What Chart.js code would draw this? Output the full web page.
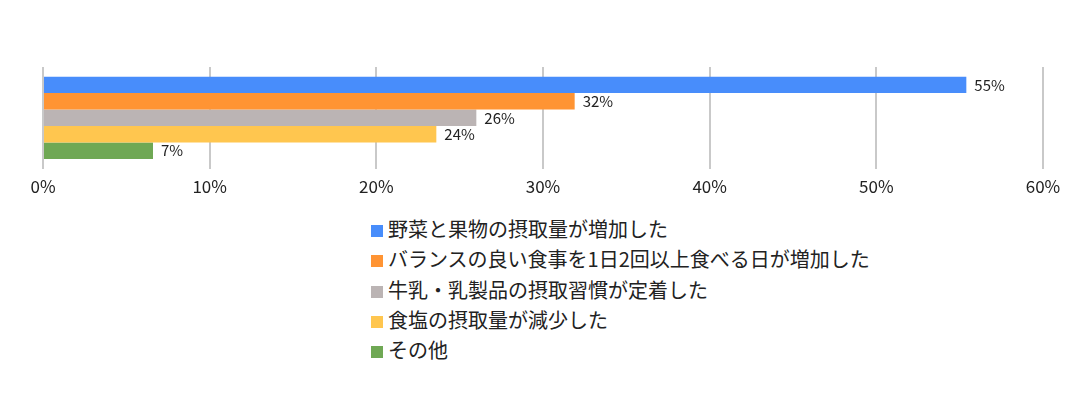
<!DOCTYPE html>
<html>
<head>
<meta charset="utf-8">
<script src="https://cdn.jsdelivr.net/npm/chart.js@4.4.0/dist/chart.umd.min.js"></script>
<style>
  body { margin: 0; background: #fff; font-family: "Noto Sans CJK JP", sans-serif; }
  #wrap { position: relative; width: 1080px; height: 393px; }
  #box { position: absolute; left: 0; top: 0; width: 1080px; height: 205px; }
  #legend { position: absolute; left: 371px; top: 214px; margin: 0; padding: 0; list-style: none; }
  #legend li { height: 30.3px; line-height: 30px; font-size: 20px; color: #222; white-space: nowrap; }
  #legend span { display: inline-block; width: 12px; height: 12px; margin-right: 5px; vertical-align: 0px; }
</style>
</head>
<body>
<div id="wrap">
  <div id="box"><canvas id="chart"></canvas></div>
  <ul id="legend"></ul>
</div>
<script>
// answers, one bar each
const seriesNames = [
  '野菜と果物の摂取量が増加した',
  'バランスの良い食事を1日2回以上食べる日が増加した',
  '牛乳・乳製品の摂取習慣が定着した',
  '食塩の摂取量が減少した',
  'その他'
];
const seriesValues = [55.4, 31.9, 26.0, 23.6, 6.6];
const seriesColors = ['#488dfb', '#ff9433', '#bbb4b4', '#ffc64f', '#6fa854'];
const tickValues = [0, 10, 20, 30, 40, 50, 60];

const datasets = seriesNames.map(function (name, i) {
    return {
        label: name,
        data: [seriesValues[i]],
        backgroundColor: seriesColors[i],
        borderWidth: 0,
        categoryPercentage: 0.81,
        barPercentage: 1.0,
    };
});

// value text right of each bar end
const valueLabels = {
    id: 'valueLabels',
    afterDatasetsDraw(chart) {
        const ctx = chart.ctx;
        ctx.save();
        ctx.font = '15px "Noto Sans CJK JP", sans-serif';
        ctx.fillStyle = '#222';
        ctx.textAlign = 'left';
        ctx.textBaseline = 'middle';
        chart.data.datasets.forEach(function (ds, i) {
            const bar = chart.getDatasetMeta(i).data[0];
            ctx.fillText(Math.round(ds.data[0]) + '%', bar.x + 8, bar.y);
        });
        ctx.restore();
    }
};

new Chart(document.getElementById('chart'), {
    type: 'bar',
    data: { labels: [''], datasets: datasets },
    options: {
        indexAxis: 'y',
        responsive: true,
        maintainAspectRatio: false,
        animation: false,
        layout: { padding: { top: 67, left: 43, right: 37, bottom: 0 } },
        plugins: { legend: { display: false }, tooltip: { enabled: false } },
        scales: {
            x: {
                min: 0,
                max: 60,
                afterBuildTicks: function (axis) {
                    axis.ticks = tickValues.map(function (v) { return { value: v }; });
                },
                grid: { color: '#c9c9c9', lineWidth: 2, drawTicks: false },
                border: { display: false },
                ticks: {
                    padding: 8,
                    color: '#222',
                    font: { size: 17, family: '"Noto Sans CJK JP", sans-serif' },
                    callback: function (v) { return v + '%'; }
                }
            },
            y: { display: false }
        }
    },
    plugins: [valueLabels]
});

const legend = document.getElementById('legend');
seriesNames.forEach(function (name, i) {
    const li = document.createElement('li');
    li.innerHTML = '<span style="background:' + seriesColors[i] + '"></span>' + name;
    legend.appendChild(li);
});
</script>
</body>
</html>
